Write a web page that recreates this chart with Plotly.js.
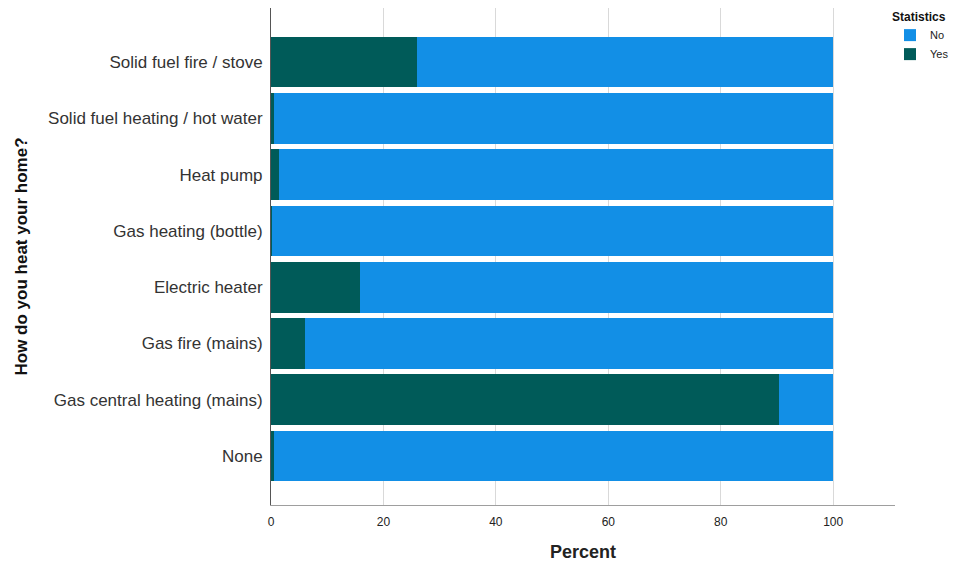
<!DOCTYPE html>
<html>
<head>
<meta charset="utf-8">
<script src="https://cdn.plot.ly/plotly-3.0.1.min.js"></script>
<style>html,body{margin:0;padding:0;background:#fff;}#chart{width:958px;height:562px;}</style>
</head>
<body>
<div id="chart"></div>
<script>
const categories = ["None", "Gas central heating (mains)", "Gas fire (mains)", "Electric heater", "Gas heating (bottle)", "Heat pump", "Solid fuel heating / hot water", "Solid fuel fire / stove"];
const yesValues = [0.5, 90.4, 6.0, 15.8, 0.2, 1.4, 0.5, 26.0];
const noValues = [99.5, 9.6, 94.0, 84.2, 99.8, 98.6, 99.5, 74.0];
const xTicks = [0, 20, 40, 60, 80, 100];

const traces = [
  {type: 'bar', orientation: 'h', name: 'Yes', y: categories, x: yesValues,
   marker: {color: '#005B59', line: {width: 0}}, hoverinfo: 'x+y+name'},
  {type: 'bar', orientation: 'h', name: 'No', y: categories, x: noValues,
   marker: {color: '#128FE6', line: {width: 0}}, hoverinfo: 'x+y+name'}
];

const layout = {
  width: 958, height: 562,
  margin: {l: 271, r: 63, t: 8, b: 57, autoexpand: false},
  barmode: 'stack',
  bargap: 0.1,
  paper_bgcolor: '#fff', plot_bgcolor: '#fff',
  font: {family: 'Liberation Sans, Arial, sans-serif', color: '#222'},
  xaxis: {
    range: [0, 111], tickvals: xTicks, ticktext: xTicks.map(String),
    showgrid: true, gridcolor: '#d9d9d9', gridwidth: 1,
    zeroline: false, showline: true, linecolor: '#9e9e9e', linewidth: 1,
    ticks: '', ticklabelstandoff: 6, tickfont: {size: 12, color: '#222'},
    automargin: false,
    title: {text: 'Percent', font: {size: 18, color: '#222', family: 'Liberation Sans, Arial, sans-serif', weight: 'bold'}, standoff: 22}
  },
  yaxis: {
    type: 'category', range: [-0.87, 7.96],
    showgrid: false, zeroline: false, showline: true, linecolor: '#555', linewidth: 1,
    ticks: '', ticklabelstandoff: 4, tickfont: {size: 17, color: '#333'},
    automargin: false,
    title: {text: 'How do you heat your home?', font: {size: 17, color: '#111', family: 'Liberation Sans, Arial, sans-serif', weight: 'bold'}, standoff: 16}
  },
  showlegend: true,
  legend: {
    x: 0.992, xanchor: 'left', y: 1.006, yanchor: 'top',
    traceorder: 'reversed',
    title: {text: '<b>Statistics</b>', font: {size: 12, color: '#111'}, side: 'top'},
    font: {size: 11, color: '#222'},
    itemwidth: 30, tracegroupgap: 0, bgcolor: 'rgba(0,0,0,0)'
  }
};

Plotly.newPlot('chart', traces, layout, {displayModeBar: false, staticPlot: true});
</script>
</body>
</html>
